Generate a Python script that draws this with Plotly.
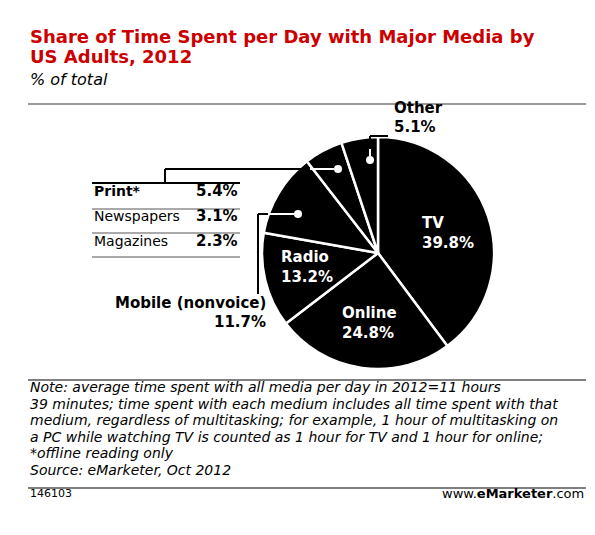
import plotly.graph_objects as go

W, H = 595, 535
labels = ["TV", "Online", "Radio", "Mobile (nonvoice)", "Print*", "Other"]
values = [39.8, 24.8, 13.2, 11.7, 5.4, 5.1]
print_rows = ["Print*", "Newspapers", "Magazines"]
print_vals = ["5.4%", "3.1%", "2.3%"]
note_lines = [
    "Note: average time spent with all media per day in 2012=11 hours",
    "39 minutes; time spent with each medium includes all time spent with that",
    "medium, regardless of multitasking; for example, 1 hour of multitasking on",
    "a PC while watching TV is counted as 1 hour for TV and 1 hour for online;",
    "*offline reading only",
    "Source: eMarketer, Oct 2012",
]

def px(x):
    return x / W

def py(y):
    return 1 - y / H

fig = go.Figure(go.Pie(
    labels=labels, values=values, sort=False, direction="clockwise", rotation=0,
    marker=dict(colors=["black"] * 6, line=dict(color="white", width=2.5)),
    textinfo="none", hoverinfo="label+value", showlegend=False,
    domain=dict(x=[px(254), px(486)], y=[py(361), py(129)]),
))

F = "DejaVu Sans"
ann = []
def t(x, y, s, size=13, color="black", bold=False, anchor="left", italic=False):
    if bold:
        s = "<b>" + s + "</b>"
    if italic:
        s = "<i>" + s + "</i>"
    # annotations render a few px low, so nudge up
    ann.append(dict(x=px(x), y=py(y - 7), xref="paper", yref="paper", text=s, showarrow=False,
                    xanchor=anchor, yanchor="middle", align=anchor,
                    font=dict(family=F, size=size, color=color)))

t(20, 36, "Share of Time Spent per Day with Major Media by", 18, "#cc0000", True)
t(20, 56, "US Adults, 2012", 18, "#cc0000", True)
t(20, 78, "% of total", 16, italic=True)
t(412, 232, "TV<br>39.8%", 15, "white", True)
t(332, 322, "Online<br>24.8%", 15, "white", True)
t(271, 266, "Radio<br>13.2%", 15, "white", True)
t(260, 302, "Mobile (nonvoice)", 15, bold=True, anchor="right")
t(260, 321, "11.7%", 15, bold=True, anchor="right")
t(384, 107, "Other", 15, bold=True)
t(384, 126, "5.1%", 15, bold=True)
for i, (r, v) in enumerate(zip(print_rows, print_vals)):
    yy = 190 + i * 25
    t(84, yy, r, 14, bold=(i == 0))
    t(232, yy, v, 15, bold=True, anchor="right")
for i, s in enumerate(note_lines):
    t(20, 386 + i * 16.6, s, 14, italic=True)
t(20, 492, "146103", 11)
t(578, 492, "www.<b>eMarketer</b>.com", 13, anchor="right")

def line(x0, y0, x1, y1, w=2, c="black"):
    return dict(type="line", xref="paper", yref="paper", x0=px(x0), y0=py(y0), x1=px(x1), y1=py(y1),
                line=dict(color=c, width=w))

def dot(x, y):
    return dict(type="circle", xref="paper", yref="paper", x0=px(x - 4), x1=px(x + 4),
                y0=py(y + 4), y1=py(y - 4), fillcolor="white", line=dict(width=0))

shapes = [
    line(20, 96, 578, 96, 1.5, "#777"),
    line(84, 175, 232, 175), line(157, 161, 157, 175), line(157, 161, 304, 161),
    line(84, 201, 232, 201, 1, "#555"), line(84, 225, 232, 225, 1, "#555"),
    line(84, 249, 232, 249, 1, "#555"),
    line(250, 206, 250, 286), line(250, 206, 270, 206), line(260, 206, 288, 206, 2, "white"),
    line(362, 128, 362, 141), line(362, 128, 380, 128), line(362, 141, 362, 148, 2, "white"),
    line(20, 372, 578, 372, 1.5, "#555"), line(20, 480, 578, 480, 1.5, "#555"),
    line(302, 161, 326, 161, 2, "white"),
    dot(330, 161), dot(362, 152), dot(290, 206),
]
fig.update_layout(width=W, height=H, margin=dict(l=0, r=0, t=0, b=0),
                  paper_bgcolor="white", plot_bgcolor="white",
                  annotations=ann, shapes=shapes)
fig.write_html("out.html")
